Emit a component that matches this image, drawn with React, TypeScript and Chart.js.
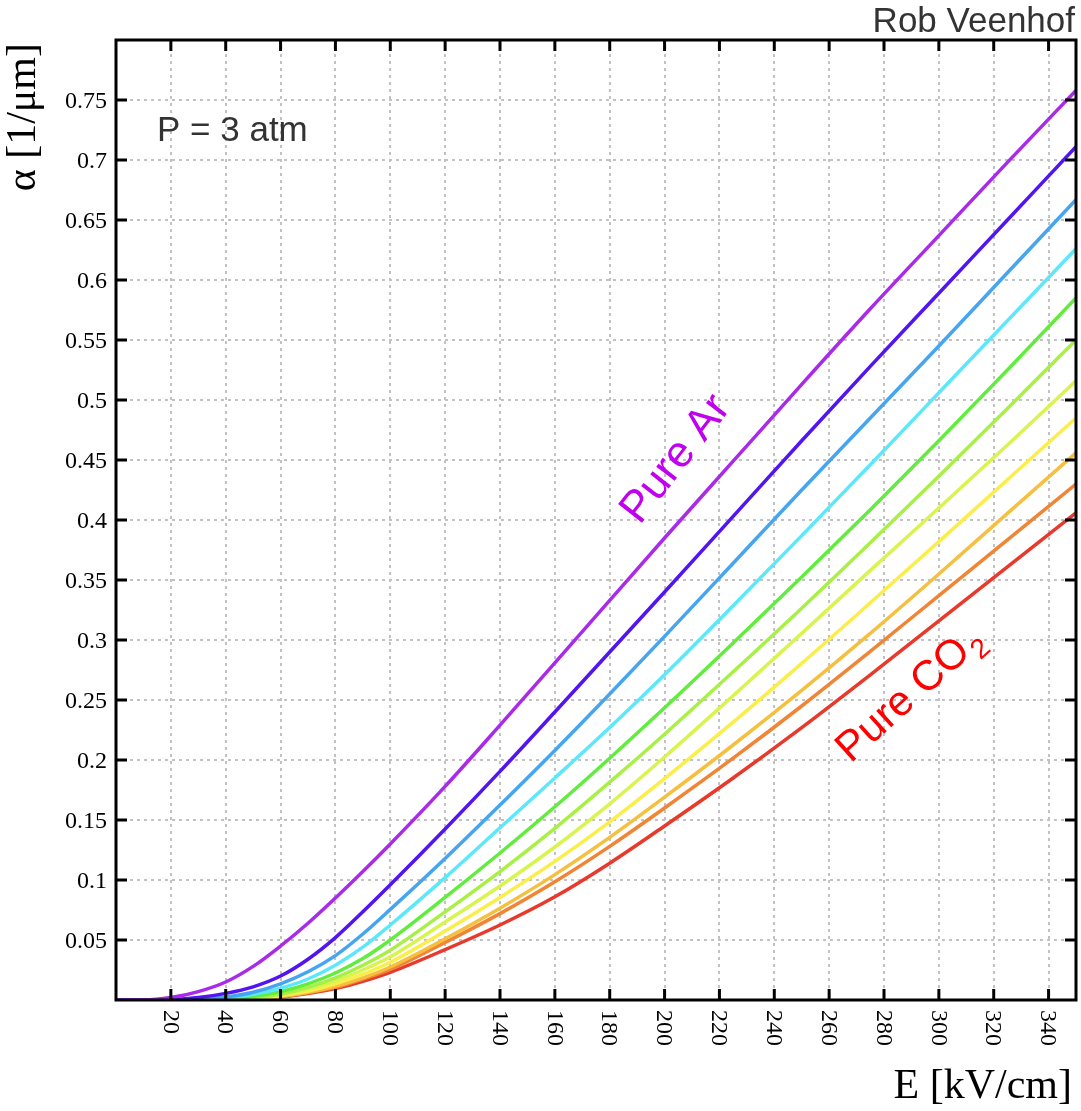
import React, { useEffect, useRef } from 'react';
import { Chart, registerables } from 'chart.js';

Chart.register(...registerables);

// Electric field E [kV/cm]
const fieldE = [0, 10, 20, 30, 40, 50, 60, 70, 80, 90, 100, 120, 140, 160, 180, 200, 225, 250, 275, 300, 325, 350];

// Townsend coefficient alpha [1/um] for Ar/CO2 mixtures at 3 atm (Ar fraction 100% .. 0%)
const ar100 = [0, 0, 0.002, 0.007, 0.015, 0.028, 0.045, 0.064, 0.085, 0.107, 0.130, 0.178, 0.229, 0.281, 0.333, 0.385, 0.449, 0.513, 0.576, 0.637, 0.698, 0.758];
const ar90 = [0, 0, 0.0003, 0.002, 0.0055, 0.011, 0.020, 0.034, 0.052, 0.0735, 0.096, 0.1425, 0.1905, 0.240, 0.290, 0.340, 0.403, 0.466, 0.528, 0.589, 0.650, 0.711];
const ar80 = [0, 0, 0.0001, 0.0008, 0.0025, 0.0065, 0.0135, 0.0235, 0.037, 0.055, 0.0755, 0.118, 0.1625, 0.208, 0.255, 0.303, 0.364, 0.425, 0.485, 0.545, 0.606, 0.667];
const ar70 = [0, 0, 0, 0.0005, 0.0018, 0.0048, 0.0098, 0.0175, 0.029, 0.044, 0.0625, 0.102, 0.1435, 0.185, 0.227, 0.271, 0.3285, 0.387, 0.446, 0.506, 0.566, 0.626];
const ar60 = [0, 0, 0, 0.0003, 0.001, 0.003, 0.007, 0.0135, 0.0225, 0.0345, 0.050, 0.0855, 0.1225, 0.161, 0.2015, 0.2435, 0.2975, 0.3525, 0.4085, 0.466, 0.525, 0.585];
const ar50 = [0, 0, 0, 0.0002, 0.0006, 0.002, 0.005, 0.0105, 0.0185, 0.029, 0.0415, 0.0735, 0.107, 0.143, 0.1815, 0.2215, 0.2735, 0.3265, 0.381, 0.4365, 0.493, 0.550];
const ar40 = [0, 0, 0, 0.0001, 0.0004, 0.0015, 0.0043, 0.009, 0.016, 0.025, 0.036, 0.065, 0.095, 0.1275, 0.1635, 0.2025, 0.2535, 0.3055, 0.358, 0.410, 0.4625, 0.516];
const ar30 = [0, 0, 0, 0.0001, 0.0003, 0.0012, 0.0035, 0.0075, 0.0135, 0.0215, 0.0315, 0.0575, 0.0855, 0.1155, 0.1485, 0.1845, 0.2315, 0.2805, 0.331, 0.382, 0.4335, 0.485];
const ar20 = [0, 0, 0, 0, 0.0002, 0.001, 0.003, 0.0065, 0.0115, 0.0185, 0.0275, 0.051, 0.0765, 0.1045, 0.1355, 0.169, 0.2125, 0.258, 0.3055, 0.355, 0.4055, 0.456];
const ar10 = [0, 0, 0, 0, 0.0002, 0.0009, 0.0028, 0.006, 0.0105, 0.0175, 0.0255, 0.048, 0.072, 0.0985, 0.128, 0.160, 0.2015, 0.245, 0.2905, 0.337, 0.3835, 0.430];
const ar0 = [0, 0, 0, 0, 0.0001, 0.0008, 0.0025, 0.0055, 0.0095, 0.0155, 0.023, 0.042, 0.0625, 0.086, 0.114, 0.145, 0.185, 0.227, 0.271, 0.316, 0.361, 0.406];

const seriesValues = [ar100, ar90, ar80, ar70, ar60, ar50, ar40, ar30, ar20, ar10, ar0];
const seriesNames = ['Ar 100%', 'Ar 90%', 'Ar 80%', 'Ar 70%', 'Ar 60%', 'Ar 50%', 'Ar 40%', 'Ar 30%', 'Ar 20%', 'Ar 10%', 'CO2 100%'];
const seriesColors = ['#a92ae8', '#5214f0', '#45a5f0', '#5ce8fa', '#62ec3e', '#a8f046', '#d8f44e', '#fbee4a', '#f5c040', '#f08535', '#e83a2c'];

const xTickValues = [20, 40, 60, 80, 100, 120, 140, 160, 180, 200, 220, 240, 260, 280, 300, 320, 340];
const yTickValues = [0.05, 0.1, 0.15, 0.2, 0.25, 0.3, 0.35, 0.4, 0.45, 0.5, 0.55, 0.6, 0.65, 0.7, 0.75];
const yTickLabels = ['0.05', '0.1', '0.15', '0.2', '0.25', '0.3', '0.35', '0.4', '0.45', '0.5', '0.55', '0.6', '0.65', '0.7', '0.75'];

const SERIF = '"Liberation Serif", "Times New Roman", serif';
const SANS = '"Liberation Sans", Arial, sans-serif';

const framePlugin = {
  id: 'framePlugin',
  afterDraw(chart: any) {
    const { ctx, chartArea: a, scales } = chart;
    const xs = scales.x;
    const ys = scales.y;
    ctx.save();
    ctx.strokeStyle = '#000';
    ctx.lineWidth = 3;
    ctx.setLineDash([]);
    const line = (x1: number, y1: number, x2: number, y2: number) => {
      ctx.beginPath();
      ctx.moveTo(x1, y1);
      ctx.lineTo(x2, y2);
      ctx.stroke();
    };
    const tl = 11;
    xTickValues.forEach((v) => {
      const px = xs.getPixelForValue(v);
      line(px, a.bottom, px, a.bottom - tl);
      line(px, a.top, px, a.top + tl);
    });
    yTickValues.forEach((v) => {
      const py = ys.getPixelForValue(v);
      line(a.left, py, a.left + tl, py);
      line(a.right, py, a.right - tl, py);
    });
    ctx.strokeRect(a.left, a.top, a.right - a.left, a.bottom - a.top);

    // tick labels
    ctx.fillStyle = '#000';
    ctx.font = `24px ${SERIF}`;
    ctx.textAlign = 'right';
    ctx.textBaseline = 'middle';
    yTickValues.forEach((v, i) => {
      const py = ys.getPixelForValue(v);
      ctx.fillText(yTickLabels[i], a.left - 9, py + 2);
    });
    xTickValues.forEach((v) => {
      const px = xs.getPixelForValue(v);
      ctx.save();
      ctx.translate(px, a.bottom + 10);
      ctx.rotate(Math.PI / 2);
      ctx.textAlign = 'left';
      ctx.textBaseline = 'middle';
      ctx.fillText(String(v), 0, 1);
      ctx.restore();
    });

    // axis titles
    ctx.font = `42px ${SERIF}`;
    ctx.save();
    ctx.translate(35, a.top + 3);
    ctx.rotate(-Math.PI / 2);
    ctx.textAlign = 'right';
    ctx.textBaseline = 'alphabetic';
    ctx.fillText('α [1/μm]', 0, 0);
    ctx.restore();
    ctx.textAlign = 'right';
    ctx.textBaseline = 'alphabetic';
    ctx.fillText('E [kV/cm]', 1072, 1098);

    // header / annotations
    ctx.fillStyle = '#333';
    ctx.font = `35px ${SANS}`;
    ctx.textAlign = 'right';
    ctx.fillText('Rob Veenhof', 1075, 32);
    ctx.textAlign = 'left';
    ctx.fillText('P = 3 atm', 157, 141);

    // Pure Ar
    ctx.save();
    ctx.fillStyle = '#c000ee';
    ctx.font = `44px ${SANS}`;
    ctx.translate(673, 457);
    ctx.rotate((-52 * Math.PI) / 180);
    ctx.textAlign = 'center';
    ctx.fillText('Pure Ar', 0, 16);
    ctx.restore();

    // Pure CO2
    ctx.save();
    ctx.fillStyle = '#ff0000';
    ctx.translate(908, 692);
    ctx.rotate((-42 * Math.PI) / 180);
    ctx.font = `42px ${SANS}`;
    const w1 = ctx.measureText('Pure CO').width;
    ctx.font = `28px ${SANS}`;
    const w2 = ctx.measureText('2').width;
    const W = w1 + w2 + 2;
    ctx.textAlign = 'left';
    ctx.font = `42px ${SANS}`;
    ctx.fillText('Pure CO', -W / 2, 15);
    ctx.font = `28px ${SANS}`;
    ctx.fillText('2', -W / 2 + w1 + 2, 25);
    ctx.restore();

    ctx.restore();
  },
};

export default function App() {
  const canvasRef = useRef<HTMLCanvasElement | null>(null);

  useEffect(() => {
    const canvas = canvasRef.current;
    if (!canvas) return;
    const datasets = seriesValues.map((vals, i) => ({
      label: seriesNames[i],
      data: fieldE.map((e, j) => ({ x: e, y: vals[j] })),
      borderColor: seriesColors[i],
      backgroundColor: seriesColors[i],
      borderWidth: 3.5,
      pointRadius: 0,
      fill: false,
      cubicInterpolationMode: 'monotone' as const,
    }));
    const chart = new Chart(canvas, {
      type: 'line',
      data: { datasets },
      options: {
        animation: false,
        responsive: false,
        devicePixelRatio: 1,
        layout: { padding: { top: 40, right: 5, left: 0, bottom: 0 } },
        plugins: { legend: { display: false }, tooltip: { enabled: false }, title: { display: false } },
        scales: {
          x: {
            type: 'linear',
            min: 0,
            max: 350,
            ticks: { display: false, stepSize: 20 },
            afterBuildTicks: (s: any) => {
              s.ticks = xTickValues.map((v) => ({ value: v }));
            },
            afterFit: (s: any) => {
              s.height = 111;
            },
            grid: { display: true, color: '#c2c2c2', lineWidth: 2, drawTicks: false },
            border: { display: false, dash: [3, 4] },
          },
          y: {
            type: 'linear',
            min: 0,
            max: 0.8,
            ticks: { display: false, stepSize: 0.05 },
            afterBuildTicks: (s: any) => {
              s.ticks = yTickValues.map((v) => ({ value: v }));
            },
            afterFit: (s: any) => {
              s.width = 116;
            },
            grid: { display: true, color: '#c2c2c2', lineWidth: 2, drawTicks: false },
            border: { display: false, dash: [3, 4] },
          },
        },
      },
      plugins: [framePlugin],
    });
    return () => chart.destroy();
  }, []);

  return (
    <div style={{ position: 'absolute', left: 0, top: 0, width: 1081, height: 1111, background: '#fff' }}>
      <canvas ref={canvasRef} width={1081} height={1111} style={{ display: 'block' }} />
    </div>
  );
}
